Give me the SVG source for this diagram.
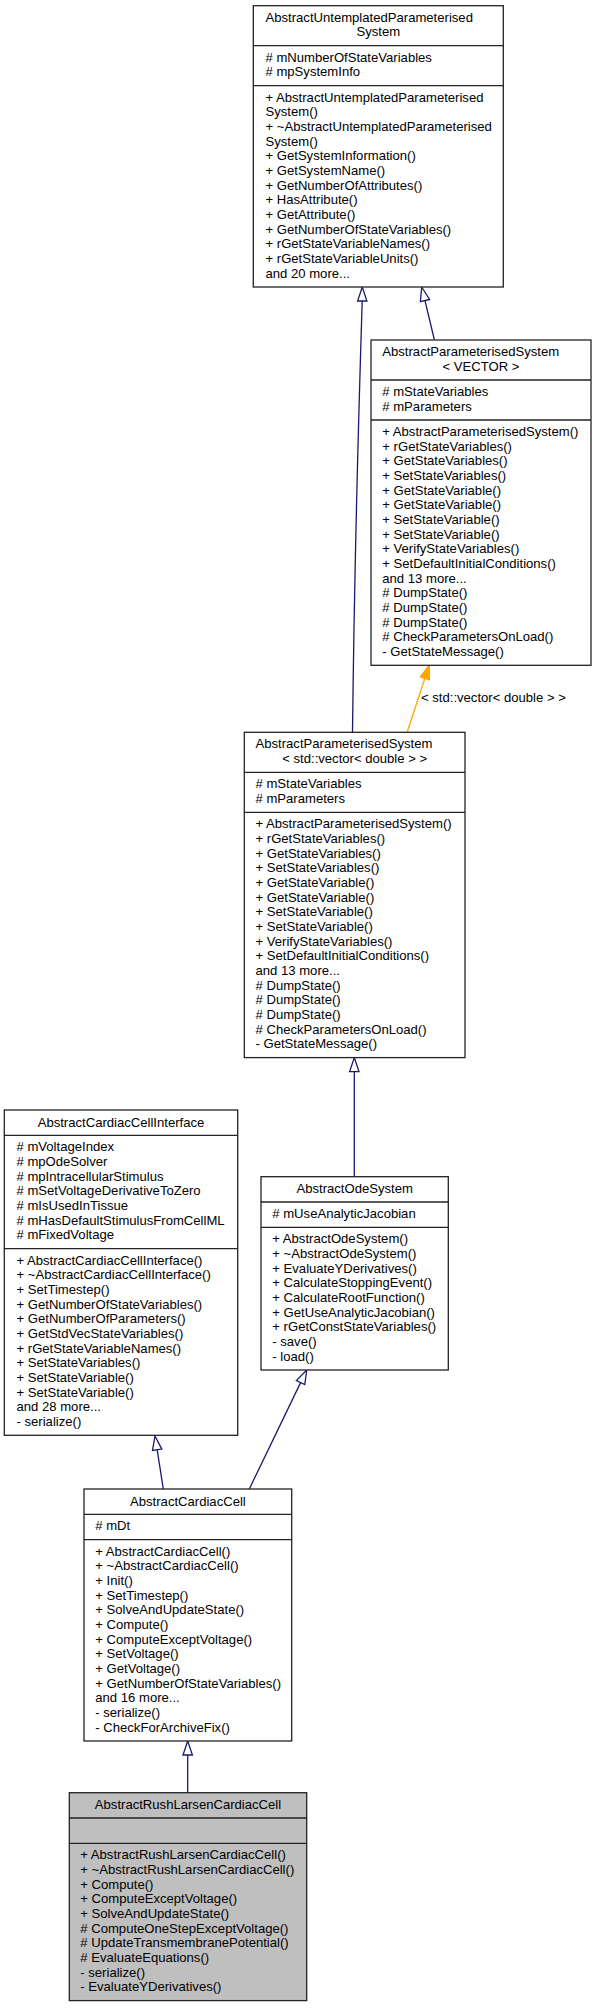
<svg xmlns="http://www.w3.org/2000/svg" width="596" height="2008" viewBox="0 0 596 2008">
<style>
.box{fill:#ffffff;stroke:#222222;stroke-width:1.3}
.hl{fill:#bfbfbf;stroke:#222222;stroke-width:1.3}
.div{stroke:#222222;stroke-width:1.3}
text{font-family:"Liberation Sans",Arial,Helvetica,sans-serif;font-size:13.1px;fill:#000000}
.c{text-anchor:middle}
.edge{fill:none;stroke:#191970;stroke-width:1.3}
.head{fill:#ffffff;stroke:#191970;stroke-width:1.3}
.tedge{fill:none;stroke:#ffa500;stroke-width:1.3}
.thead{fill:#ffa500;stroke:#ffa500;stroke-width:1.3}
</style>
<rect x="0" y="0" width="596" height="2008" fill="#ffffff"/>

<g id="connectors">
  <path class="edge" d="M352.5,732.3 C354,600 357.5,450 362.2,301"/>
  <polygon class="head" points="362.3,287 357.6,301 366.9,301"/>
  <path class="edge" d="M434.3,339.5 L425,300.6"/>
  <polygon class="head" points="421.7,287 429.6,299.5 420.4,301.7"/>
  <path class="tedge" d="M407.3,731.8 L424.9,678.3"/>
  <polygon class="thead" points="429.3,665 429.4,679.8 420.4,676.8"/>
  <text x="421" y="701.7">&lt; std::vector&lt; double &gt; &gt;</text>
  <path class="edge" d="M354.3,1176.7 L354.3,1071.6"/>
  <polygon class="head" points="354.3,1057.6 349.6,1071.6 359,1071.6"/>
  <path class="edge" d="M163.3,1489 L157.2,1449.8"/>
  <polygon class="head" points="155,1436 161.8,1449.1 152.5,1450.5"/>
  <path class="edge" d="M249.3,1489 L300.6,1382.6"/>
  <polygon class="head" points="306.7,1370 304.8,1384.6 296.4,1380.6"/>
  <path class="edge" d="M187.7,1792.7 L187.7,1755"/>
  <polygon class="head" points="187.7,1741 183,1755 192.4,1755"/>
</g>

<g id="AbstractUntemplatedParameterisedSystem">
  <rect class="box" x="253.3" y="5.7" width="250" height="281.3"/>
  <line class="div" x1="253.3" y1="45.7" x2="503.3" y2="45.7"/>
  <line class="div" x1="253.3" y1="85.7" x2="503.3" y2="85.7"/>
  <text x="265.5" y="21.7">AbstractUntemplatedParameterised</text>
  <text class="c" x="378.3" y="36.4">System</text>
  <text x="265.5" y="61.7"># mNumberOfStateVariables<tspan x="265.5" dy="14.67"># mpSystemInfo</tspan></text>
  <text x="265.5" y="101.7">+ AbstractUntemplatedParameterised<tspan x="265.5" dy="14.67">System()</tspan><tspan x="265.5" dy="14.67">+ ~AbstractUntemplatedParameterised</tspan><tspan x="265.5" dy="14.67">System()</tspan><tspan x="265.5" dy="14.67">+ GetSystemInformation()</tspan><tspan x="265.5" dy="14.67">+ GetSystemName()</tspan><tspan x="265.5" dy="14.67">+ GetNumberOfAttributes()</tspan><tspan x="265.5" dy="14.67">+ HasAttribute()</tspan><tspan x="265.5" dy="14.67">+ GetAttribute()</tspan><tspan x="265.5" dy="14.67">+ GetNumberOfStateVariables()</tspan><tspan x="265.5" dy="14.67">+ rGetStateVariableNames()</tspan><tspan x="265.5" dy="14.67">+ rGetStateVariableUnits()</tspan><tspan x="265.5" dy="14.67">and 20 more...</tspan></text>
</g>

<g id="AbstractParameterisedSystemVECTOR">
  <rect class="box" x="371" y="340" width="220" height="325.3"/>
  <line class="div" x1="371" y1="380" x2="591" y2="380"/>
  <line class="div" x1="371" y1="420" x2="591" y2="420"/>
  <text x="382.3" y="356">AbstractParameterisedSystem</text>
  <text class="c" x="481" y="370.7">&lt; VECTOR &gt;</text>
  <text x="382.3" y="396"># mStateVariables<tspan x="382.3" dy="14.67"># mParameters</tspan></text>
  <text x="382.3" y="436">+ AbstractParameterisedSystem()<tspan x="382.3" dy="14.67">+ rGetStateVariables()</tspan><tspan x="382.3" dy="14.67">+ GetStateVariables()</tspan><tspan x="382.3" dy="14.67">+ SetStateVariables()</tspan><tspan x="382.3" dy="14.67">+ GetStateVariable()</tspan><tspan x="382.3" dy="14.67">+ GetStateVariable()</tspan><tspan x="382.3" dy="14.67">+ SetStateVariable()</tspan><tspan x="382.3" dy="14.67">+ SetStateVariable()</tspan><tspan x="382.3" dy="14.67">+ VerifyStateVariables()</tspan><tspan x="382.3" dy="14.67">+ SetDefaultInitialConditions()</tspan><tspan x="382.3" dy="14.67">and 13 more...</tspan><tspan x="382.3" dy="14.67"># DumpState()</tspan><tspan x="382.3" dy="14.67"># DumpState()</tspan><tspan x="382.3" dy="14.67"># DumpState()</tspan><tspan x="382.3" dy="14.67"># CheckParametersOnLoad()</tspan><tspan x="382.3" dy="14.67">- GetStateMessage()</tspan></text>
</g>

<g id="AbstractParameterisedSystemStdVector">
  <rect class="box" x="244.3" y="732.3" width="220.7" height="325.3"/>
  <line class="div" x1="244.3" y1="772.3" x2="465" y2="772.3"/>
  <line class="div" x1="244.3" y1="812.3" x2="465" y2="812.3"/>
  <text x="255.5" y="748.3">AbstractParameterisedSystem</text>
  <text class="c" x="354.7" y="763">&lt; std::vector&lt; double &gt; &gt;</text>
  <text x="255.5" y="788.3"># mStateVariables<tspan x="255.5" dy="14.67"># mParameters</tspan></text>
  <text x="255.5" y="828.3">+ AbstractParameterisedSystem()<tspan x="255.5" dy="14.67">+ rGetStateVariables()</tspan><tspan x="255.5" dy="14.67">+ GetStateVariables()</tspan><tspan x="255.5" dy="14.67">+ SetStateVariables()</tspan><tspan x="255.5" dy="14.67">+ GetStateVariable()</tspan><tspan x="255.5" dy="14.67">+ GetStateVariable()</tspan><tspan x="255.5" dy="14.67">+ SetStateVariable()</tspan><tspan x="255.5" dy="14.67">+ SetStateVariable()</tspan><tspan x="255.5" dy="14.67">+ VerifyStateVariables()</tspan><tspan x="255.5" dy="14.67">+ SetDefaultInitialConditions()</tspan><tspan x="255.5" dy="14.67">and 13 more...</tspan><tspan x="255.5" dy="14.67"># DumpState()</tspan><tspan x="255.5" dy="14.67"># DumpState()</tspan><tspan x="255.5" dy="14.67"># DumpState()</tspan><tspan x="255.5" dy="14.67"># CheckParametersOnLoad()</tspan><tspan x="255.5" dy="14.67">- GetStateMessage()</tspan></text>
</g>

<g id="AbstractCardiacCellInterface">
  <rect class="box" x="4.3" y="1110" width="233.4" height="325.3"/>
  <line class="div" x1="4.3" y1="1135.3" x2="237.7" y2="1135.3"/>
  <line class="div" x1="4.3" y1="1248.7" x2="237.7" y2="1248.7"/>
  <text class="c" x="121" y="1126.6">AbstractCardiacCellInterface</text>
  <text x="16.5" y="1151.3"># mVoltageIndex<tspan x="16.5" dy="14.67"># mpOdeSolver</tspan><tspan x="16.5" dy="14.67"># mpIntracellularStimulus</tspan><tspan x="16.5" dy="14.67"># mSetVoltageDerivativeToZero</tspan><tspan x="16.5" dy="14.67"># mIsUsedInTissue</tspan><tspan x="16.5" dy="14.67"># mHasDefaultStimulusFromCellML</tspan><tspan x="16.5" dy="14.67"># mFixedVoltage</tspan></text>
  <text x="16.5" y="1264.7">+ AbstractCardiacCellInterface()<tspan x="16.5" dy="14.67">+ ~AbstractCardiacCellInterface()</tspan><tspan x="16.5" dy="14.67">+ SetTimestep()</tspan><tspan x="16.5" dy="14.67">+ GetNumberOfStateVariables()</tspan><tspan x="16.5" dy="14.67">+ GetNumberOfParameters()</tspan><tspan x="16.5" dy="14.67">+ GetStdVecStateVariables()</tspan><tspan x="16.5" dy="14.67">+ rGetStateVariableNames()</tspan><tspan x="16.5" dy="14.67">+ SetStateVariables()</tspan><tspan x="16.5" dy="14.67">+ SetStateVariable()</tspan><tspan x="16.5" dy="14.67">+ SetStateVariable()</tspan><tspan x="16.5" dy="14.67">and 28 more...</tspan><tspan x="16.5" dy="14.67">- serialize()</tspan></text>
</g>

<g id="AbstractOdeSystem">
  <rect class="box" x="261" y="1176.7" width="187.3" height="193.3"/>
  <line class="div" x1="261" y1="1202" x2="448.3" y2="1202"/>
  <line class="div" x1="261" y1="1227.3" x2="448.3" y2="1227.3"/>
  <text class="c" x="354.7" y="1193.3">AbstractOdeSystem</text>
  <text x="272.3" y="1218"># mUseAnalyticJacobian</text>
  <text x="272.3" y="1243.3">+ AbstractOdeSystem()<tspan x="272.3" dy="14.67">+ ~AbstractOdeSystem()</tspan><tspan x="272.3" dy="14.67">+ EvaluateYDerivatives()</tspan><tspan x="272.3" dy="14.67">+ CalculateStoppingEvent()</tspan><tspan x="272.3" dy="14.67">+ CalculateRootFunction()</tspan><tspan x="272.3" dy="14.67">+ GetUseAnalyticJacobian()</tspan><tspan x="272.3" dy="14.67">+ rGetConstStateVariables()</tspan><tspan x="272.3" dy="14.67">- save()</tspan><tspan x="272.3" dy="14.67">- load()</tspan></text>
</g>

<g id="AbstractCardiacCell">
  <rect class="box" x="84" y="1489" width="207.7" height="252"/>
  <line class="div" x1="84" y1="1514.3" x2="291.7" y2="1514.3"/>
  <line class="div" x1="84" y1="1539.6" x2="291.7" y2="1539.6"/>
  <text class="c" x="187.9" y="1505.6">AbstractCardiacCell</text>
  <text x="95.3" y="1530.3"># mDt</text>
  <text x="95.3" y="1555.6">+ AbstractCardiacCell()<tspan x="95.3" dy="14.67">+ ~AbstractCardiacCell()</tspan><tspan x="95.3" dy="14.67">+ Init()</tspan><tspan x="95.3" dy="14.67">+ SetTimestep()</tspan><tspan x="95.3" dy="14.67">+ SolveAndUpdateState()</tspan><tspan x="95.3" dy="14.67">+ Compute()</tspan><tspan x="95.3" dy="14.67">+ ComputeExceptVoltage()</tspan><tspan x="95.3" dy="14.67">+ SetVoltage()</tspan><tspan x="95.3" dy="14.67">+ GetVoltage()</tspan><tspan x="95.3" dy="14.67">+ GetNumberOfStateVariables()</tspan><tspan x="95.3" dy="14.67">and 16 more...</tspan><tspan x="95.3" dy="14.67">- serialize()</tspan><tspan x="95.3" dy="14.67">- CheckForArchiveFix()</tspan></text>
</g>

<g id="AbstractRushLarsenCardiacCell">
  <rect class="hl" x="69.3" y="1792.7" width="237.4" height="207.9"/>
  <line class="div" x1="69.3" y1="1818" x2="306.7" y2="1818"/>
  <line class="div" x1="69.3" y1="1843.3" x2="306.7" y2="1843.3"/>
  <text class="c" x="188" y="1809.3">AbstractRushLarsenCardiacCell</text>
  <text x="80.3" y="1859.3">+ AbstractRushLarsenCardiacCell()<tspan x="80.3" dy="14.67">+ ~AbstractRushLarsenCardiacCell()</tspan><tspan x="80.3" dy="14.67">+ Compute()</tspan><tspan x="80.3" dy="14.67">+ ComputeExceptVoltage()</tspan><tspan x="80.3" dy="14.67">+ SolveAndUpdateState()</tspan><tspan x="80.3" dy="14.67"># ComputeOneStepExceptVoltage()</tspan><tspan x="80.3" dy="14.67"># UpdateTransmembranePotential()</tspan><tspan x="80.3" dy="14.67"># EvaluateEquations()</tspan><tspan x="80.3" dy="14.67">- serialize()</tspan><tspan x="80.3" dy="14.67">- EvaluateYDerivatives()</tspan></text>
</g>
</svg>
